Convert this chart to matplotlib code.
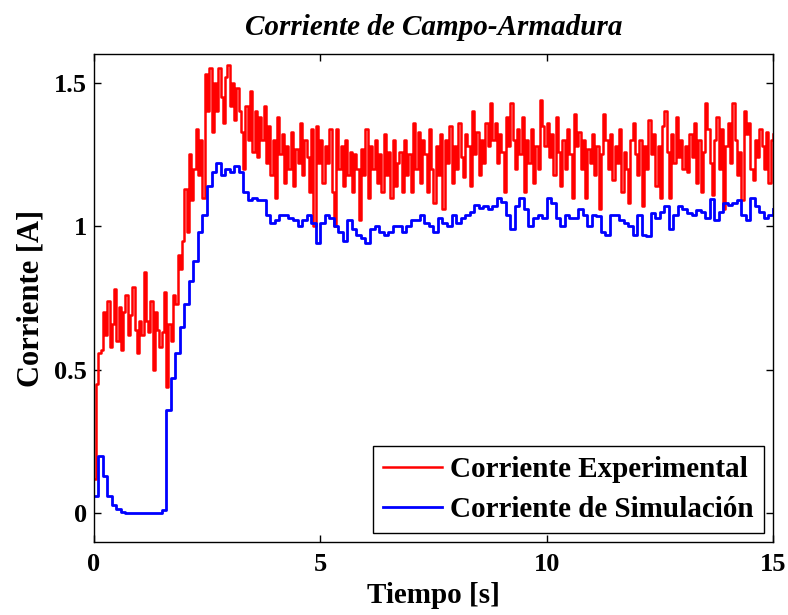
import numpy as np
import matplotlib
matplotlib.use("Agg")
from matplotlib import pyplot as plt

# Corriente experimental, muestreada cada 0.05 s (0 .. 15 s)
red_dt = 0.05
red_vals = [
    # 0 s
    0.12, 0.45, 0.56, 0.57, 0.70, 0.62, 0.74, 0.58, 0.66, 0.78, 0.60, 0.72, 0.57, 0.70, 0.76, 0.62, 0.69, 0.79, 0.64, 0.56,
    # 1 s
    0.67, 0.62, 0.84, 0.67, 0.63, 0.74, 0.50, 0.70, 0.64, 0.58, 0.63, 0.77, 0.44, 0.66, 0.60, 0.76, 0.73, 0.90, 0.85, 0.95,
    # 2 s
    1.13, 0.98, 1.25, 1.09, 1.20, 1.34, 1.18, 1.30, 1.10, 1.53, 1.40, 1.55, 1.33, 1.50, 1.40, 1.55, 1.45, 1.36, 1.52, 1.56,
    # 3 s
    1.42, 1.50, 1.37, 1.48, 1.40, 1.33, 1.20, 1.42, 1.30, 1.47, 1.26, 1.40, 1.24, 1.38, 1.30, 1.42, 1.22, 1.35, 1.18, 1.30,
    # 4 s
    1.10, 1.38, 1.25, 1.32, 1.15, 1.28, 1.20, 1.33, 1.14, 1.27, 1.22, 1.36, 1.18, 1.30, 1.24, 1.12, 1.34, 1.00, 1.35, 1.22,
    # 5 s
    1.30, 1.15, 1.28, 1.22, 1.34, 1.12, 1.00, 1.34, 1.20, 1.28, 1.14, 1.30, 1.18, 1.26, 1.12, 1.25, 1.20, 1.02, 1.27, 1.18,
    # 6 s
    1.34, 1.10, 1.28, 1.20, 1.30, 1.15, 1.25, 1.12, 1.32, 1.18, 1.26, 1.10, 1.30, 1.14, 1.22, 1.26, 1.12, 1.30, 1.18, 1.25,
    # 7 s
    1.12, 1.36, 1.20, 1.33, 1.15, 1.30, 1.25, 1.12, 1.34, 1.20, 1.08, 1.28, 1.18, 1.32, 1.06, 1.30, 1.22, 1.35, 1.15, 1.28,
    # 8 s
    1.20, 1.36, 1.24, 1.17, 1.32, 1.28, 1.14, 1.40, 1.25, 1.33, 1.18, 1.30, 1.22, 1.36, 1.28, 1.43, 1.30, 1.36, 1.22, 1.32,
    # 9 s
    1.26, 1.12, 1.38, 1.28, 1.43, 1.30, 1.20, 1.34, 1.25, 1.38, 1.12, 1.30, 1.22, 1.34, 1.15, 1.28, 1.20, 1.44, 1.35, 1.28,
    # 10 s
    1.36, 1.24, 1.32, 1.18, 1.38, 1.26, 1.14, 1.30, 1.20, 1.34, 1.25, 1.10, 1.39, 1.28, 1.33, 1.20, 1.30, 1.10, 1.27, 1.22,
    # 11 s
    1.32, 1.18, 1.28, 1.06, 1.25, 1.39, 1.30, 1.20, 1.32, 1.16, 1.28, 1.22, 1.34, 1.12, 1.26, 1.20, 1.08, 1.30, 1.36, 1.25,
    # 12 s
    1.18, 1.30, 1.07, 1.28, 1.20, 1.37, 1.25, 1.32, 1.14, 1.28, 1.10, 1.35, 1.40, 1.26, 1.10, 1.32, 1.22, 1.38, 1.24, 1.30,
    # 13 s
    1.20, 1.28, 1.19, 1.32, 1.24, 1.36, 1.15, 1.30, 1.12, 1.26, 1.43, 1.34, 1.22, 1.11, 1.30, 1.38, 1.20, 1.34, 1.06, 1.28,
    # 14 s
    1.36, 1.22, 1.43, 1.30, 1.18, 1.26, 1.09, 1.40, 1.32, 1.36, 1.20, 1.16, 1.30, 1.24, 1.34, 1.28, 1.20, 1.33, 1.15, 1.30,
    # 15 s
    1.32,
]

# Corriente de simulacion, cada 0.1 s (0 .. 15 s)
blue_dt = 0.1
blue_vals = [
    0.06, 0.20, 0.13, 0.06, 0.03, 0.015, 0.005, 0.0, 0.0, 0.0,
    0.0, 0.0, 0.0, 0.0, 0.0, 0.01, 0.36, 0.47, 0.56, 0.65,
    0.73, 0.81, 0.88, 0.98, 1.04, 1.14, 1.19, 1.22, 1.18, 1.20,
    1.19, 1.21, 1.19, 1.12, 1.09, 1.10, 1.09, 1.09, 1.04, 1.01,
    1.02, 1.04, 1.04, 1.03, 1.02, 1.00, 1.02, 1.04, 1.01, 0.94,
    1.01, 1.04, 1.03, 1.00, 0.98, 0.95, 1.02, 0.99, 0.97, 0.96,
    0.94, 0.99, 1.00, 0.98, 0.97, 0.98, 1.00, 1.00, 0.98, 1.00,
    1.02, 1.02, 1.04, 1.01, 1.00, 0.98, 1.03, 1.01, 1.00, 1.04,
    1.01, 1.03, 1.04, 1.05, 1.075, 1.065, 1.07, 1.06, 1.07, 1.10,
    1.085, 1.04, 0.99, 1.07, 1.10, 1.06, 1.00, 1.03, 1.04, 1.03,
    1.10, 1.08, 1.03, 1.00, 1.04, 1.03, 1.03, 1.06, 1.04, 1.00,
    1.04, 1.035, 0.98, 0.97, 1.04, 1.04, 1.02, 1.01, 1.00, 0.97,
    1.04, 0.97, 0.965, 1.045, 1.03, 1.05, 1.07, 0.99, 1.04, 1.07,
    1.06, 1.045, 1.04, 1.055, 1.05, 1.03, 1.095, 1.02, 1.05, 1.08,
    1.075, 1.08, 1.09, 1.04, 1.02, 1.10, 1.07, 1.05, 1.03, 1.04,
    1.06,
]

x_ticks = [0, 5, 10, 15]
y_ticks = [0, 0.5, 1, 1.5]
y_tick_labels = ["0", "0.5", "1", "1.5"]

t_red = np.arange(len(red_vals)) * red_dt
t_blue = np.arange(len(blue_vals)) * blue_dt

plt.rcParams["font.family"] = ["Liberation Serif", "DejaVu Serif"]
plt.rcParams["font.weight"] = "bold"

fig = plt.figure(figsize=(7.88, 6.15), dpi=100)
ax = fig.add_axes([0.119, 0.1187, 0.862, 0.7935])

ax.plot(t_red, red_vals, color="#ff0000", lw=1.8, drawstyle="steps-post",
        label="Corriente Experimental")
ax.plot(t_blue, blue_vals, color="#0000ff", lw=2.0, drawstyle="steps-post",
        label="Corriente de Simulación")

ax.set_xlim(0, 15)
ax.set_ylim(-0.1, 1.6)
ax.set_xticks(x_ticks)
ax.set_xticklabels([str(v) for v in x_ticks])
ax.set_yticks(y_ticks)
ax.set_yticklabels(y_tick_labels)
ax.tick_params(direction="in", top=True, right=True, length=5, width=1,
               labelsize=19)
ax.tick_params(axis="x", pad=8)
ax.tick_params(axis="y", pad=5)
for s in ax.spines.values():
    s.set_linewidth(1.0)

ax.set_title("Corriente de Campo-Armadura", fontsize=21, fontstyle="italic",
             fontweight="bold", pad=14)
ax.set_xlabel("Tiempo [s]", fontsize=21, fontweight="bold", labelpad=4)
ax.set_ylabel("Corriente [A]", fontsize=22, fontweight="bold", labelpad=6)

leg = ax.legend(loc="lower right", fontsize=21, frameon=True, fancybox=False,
                framealpha=1, edgecolor="black", handlelength=2.0,
                borderaxespad=0.3, borderpad=0.35, labelspacing=0.45,
                handletextpad=0.3)
leg.get_frame().set_linewidth(1.0)

fig.savefig("out.png", dpi=100)
